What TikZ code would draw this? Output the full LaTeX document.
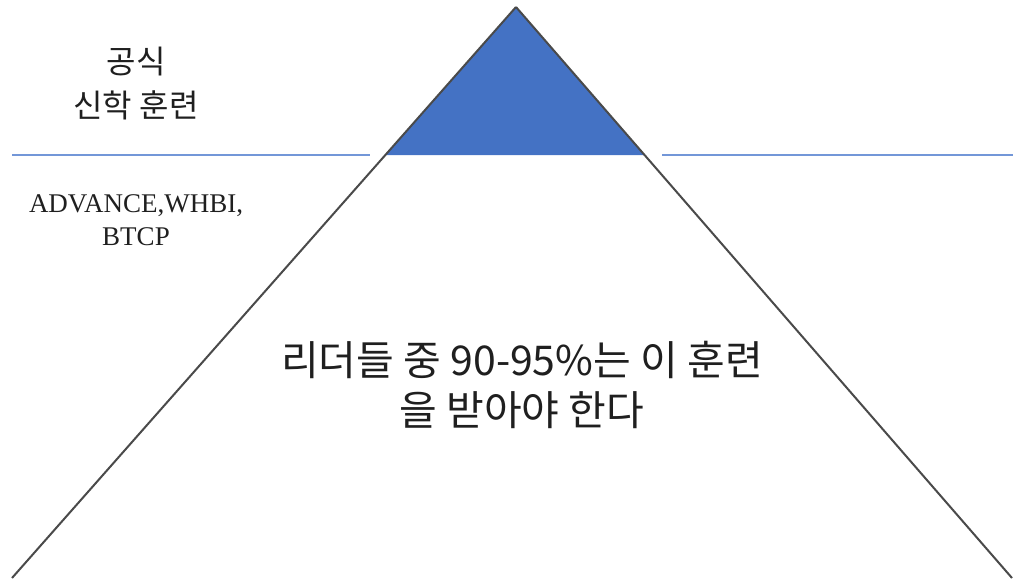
\documentclass[tikz,border=0pt]{standalone}
\usepackage{fontspec}
\newfontfamily\kr{Noto Sans CJK KR}
\newfontfamily\serifL{Liberation Serif}
\definecolor{triblue}{HTML}{4472C4}
\definecolor{lineblue}{HTML}{7397D8}
\definecolor{edgegray}{HTML}{4A4A4A}
\begin{document}
\begin{tikzpicture}[x=1pt,y=-1pt,
  edge/.style={draw=edgegray,line width=2pt},
  sep/.style={draw=lineblue,line width=1.6pt},
  krtext/.style={font=\kr,align=center,inner sep=0pt,text=black!88},
  lattext/.style={font=\serifL,align=center,inner sep=0pt,text=black!88}]
\useasboundingbox (0,0) rectangle (1013,579);
\coordinate (apex) at (516,7);
\coordinate (bl) at (12,578);
\coordinate (br) at (1012,578);
\coordinate (tl) at (385.5,155);
\coordinate (tr) at (645,155);
\coordinate (sepLa) at (12,155);
\coordinate (sepLb) at (370,155);
\coordinate (sepRa) at (662,155);
\coordinate (sepRb) at (1013,155);
\fill[triblue] (apex) -- (tl) -- (tr) -- cycle;
\draw[sep] (sepLa) -- (sepLb);
\draw[sep] (sepRa) -- (sepRb);
\draw[edge] (apex) -- (bl);
\draw[edge] (apex) -- (br);
\node[krtext,font=\kr\fontsize{32}{44}\selectfont] (top) at (136,84) {공식\\신학 훈련};
\node[lattext,font=\serifL\fontsize{27}{33}\selectfont] (adv) at (136,220) {ADVANCE,WHBI,\\BTCP};
\node[krtext,font=\kr\fontsize{41}{50}\selectfont] (main) at (522,385) {리더들 중 90-95\%는 이 훈련\\을 받아야 한다};
\end{tikzpicture}
\end{document}
